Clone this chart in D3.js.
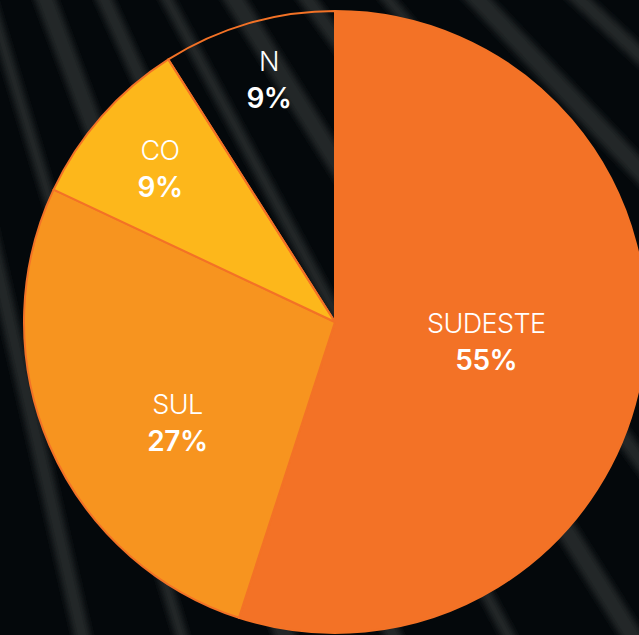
<!DOCTYPE html>
<html>
<head>
<meta charset="utf-8">
<script src="https://cdn.jsdelivr.net/npm/d3@7"></script>
<style>
  html, body { margin: 0; padding: 0; background: #05090c; overflow: hidden; }
  svg { display: block; }
</style>
</head>
<body>
<div id="chart"></div>
<script>
// regions and their share (%)
const regions = ["SUDESTE", "SUL", "CO", "N"];
const shares = [55, 27, 9, 9];
const labels = ["55%", "27%", "9%", "9%"];
const fills = ["#f37226", "#f7941f", "#fdb71b", "none"];

const width = 639, height = 635;
const cx = 335, cy = 322;
const radius = 311;

// label placement: distance from centre (fraction of radius) + angle nudge (deg)
const labelRadius = [0.49, 0.6, 0.75, 0.81];
const labelNudge = [-2, -9, 0, 1];

const svg = d3.select("#chart").append("svg")
    .attr("width", width)
    .attr("height", height);

// dark striped backdrop, stripes fan out from a point far up-left
let defs = svg.append("defs");
defs.append("filter").attr("id", "soft")
  .append("feGaussianBlur").attr("stdDeviation", 3);

svg.append("rect")
    .attr("width", width).attr("height", height)
    .attr("fill", "#04080b");

let focus = [-240, -760];
let stripes = svg.append("g").attr("filter", "url(#soft)");
d3.range(12).forEach(i => {
    let a = (39 + i * 3.8) * Math.PI / 180; // angle below horizontal
    let len = 2400;
    stripes.append("line")
        .attr("x1", focus[0]).attr("y1", focus[1])
        .attr("x2", focus[0] + Math.cos(a) * len)
        .attr("y2", focus[1] + Math.sin(a) * len)
        .attr("stroke", "#2e3233")
        .attr("stroke-width", 12 + (i % 3) * 4)
        .attr("stroke-opacity", 0.75);
});

const g = svg.append("g").attr("transform", `translate(${cx},${cy})`);

const pie = d3.pie().sort(null).value(d => d.value)
    .startAngle(0).endAngle(2 * Math.PI);
const data = pie(regions.map((r, i) => ({ name: r, value: shares[i], label: labels[i], fill: fills[i] })));

const arc = d3.arc().innerRadius(0).outerRadius(radius);

g.selectAll("path.slice")
  .data(data)
  .join("path")
    .attr("class", "slice")
    .attr("d", arc)
    .attr("fill", d => d.data.fill)
    .attr("stroke", "#f37226")
    .attr("stroke-width", 2)
    .attr("stroke-linejoin", "round");

const lab = g.selectAll("g.lab")
  .data(data)
  .join("g")
    .attr("class", "lab")
    .attr("transform", (d, i) => {
        let a = (d.startAngle + d.endAngle) / 2 + labelNudge[i] * Math.PI / 180;
        let r = radius * labelRadius[i];
        return `translate(${Math.sin(a) * r},${-Math.cos(a) * r})`;
    })
    .attr("text-anchor", "middle")
    .attr("fill", "#ffffff");

lab.append("text")
    .attr("y", -8)
    .style("font", "300 27px Inter, 'Liberation Sans', sans-serif")
    .style("letter-spacing", "-0.6px")
    .text(d => d.data.name);

lab.append("text")
    .attr("y", 29)
    .style("font", "600 28px Inter, 'Liberation Sans', sans-serif")
    .style("letter-spacing", "-0.5px")
    .text(d => d.data.label);
</script>
</body>
</html>
